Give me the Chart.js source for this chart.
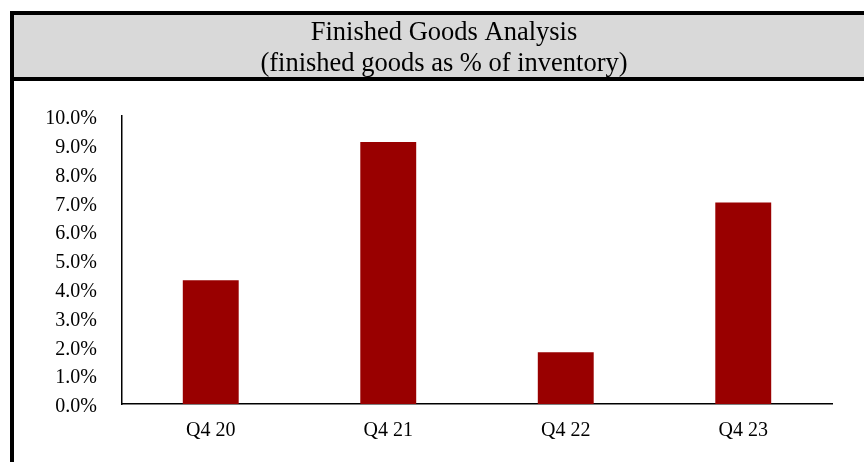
<!DOCTYPE html>
<html>
<head>
<meta charset="utf-8">
<script src="https://cdn.jsdelivr.net/npm/chart.js@4"></script>
<style>
  html, body { margin: 0; padding: 0; background: #fff; }
  #box { width: 864px; height: 462px; }
</style>
</head>
<body>
<div id="box"><canvas id="myChart"></canvas></div>
<script>
var quarters = ['Q4 20', 'Q4 21', 'Q4 22', 'Q4 23'];
var finishedPct = [4.3, 9.1, 1.8, 7.0];
var tickStep = 1;
var tickMax = 10;

// gray header band and the black frame lines
var frame = {
  id: 'frame',
  beforeDraw: function (chart) {
    var ctx = chart.ctx;
    var w = chart.width, h = chart.height;
    ctx.save();
    ctx.fillStyle = '#fff';
    ctx.fillRect(0, 0, w, h);
    ctx.fillStyle = '#d9d9d9';
    ctx.fillRect(14, 15, w - 14, 62);
    ctx.fillStyle = '#000';
    ctx.fillRect(10, 11, w - 10, 4);
    ctx.fillRect(10, 77, w - 10, 4);
    ctx.fillRect(10, 11, 4, h - 11);
    ctx.restore();
  }
};

const config = {
  type: 'bar',
  data: {
    labels: quarters,
    datasets: [{
      label: 'Finished goods',
      data: finishedPct,
      backgroundColor: '#990000',
      borderWidth: 0,
      barPercentage: 0.315,
      categoryPercentage: 1
    }]
  },
  options: {
    responsive: true,
    maintainAspectRatio: false,
    animation: false,
    layout: {
      padding: { left: 24, right: 0, top: 0, bottom: 0 }
    },
    plugins: {
      legend: { display: false },
      tooltip: { enabled: false },
      title: {
        display: true,
        text: ['Finished Goods Analysis', '(finished goods as % of inventory)'],
        color: '#000',
        font: { family: 'Liberation Serif', size: 26.5, weight: 'normal', lineHeight: 1.18 },
        padding: { top: 17, bottom: 36.5 }
      }
    },
    scales: {
      y: {
        min: 0,
        max: tickMax,
        afterFit: function (scale) { scale.width = 98; },
        ticks: {
          stepSize: tickStep,
          color: '#000',
          padding: 25,
          labelOffset: 3,
          font: { family: 'Liberation Serif', size: 20 },
          callback: function (v) { return v.toFixed(1) + '%'; }
        },
        grid: { display: false, drawTicks: false },
        border: { display: true, color: '#000', width: 1.5 }
      },
      // empty right-hand axis, only reserves the gap after the last bar
      gap: {
        position: 'right',
        afterFit: function (scale) { scale.width = 32; },
        ticks: { display: false },
        grid: { display: false, drawTicks: false },
        border: { display: false }
      },
      x: {
        afterFit: function (scale) { scale.height = 58; },
        ticks: {
          color: '#000',
          padding: 15,
          font: { family: 'Liberation Serif', size: 20 }
        },
        grid: { display: false, drawTicks: false },
        border: { display: true, color: '#000', width: 1.5 }
      }
    }
  },
  plugins: [frame]
};

const myChart = new Chart(document.getElementById('myChart'), config);
</script>
</body>
</html>
